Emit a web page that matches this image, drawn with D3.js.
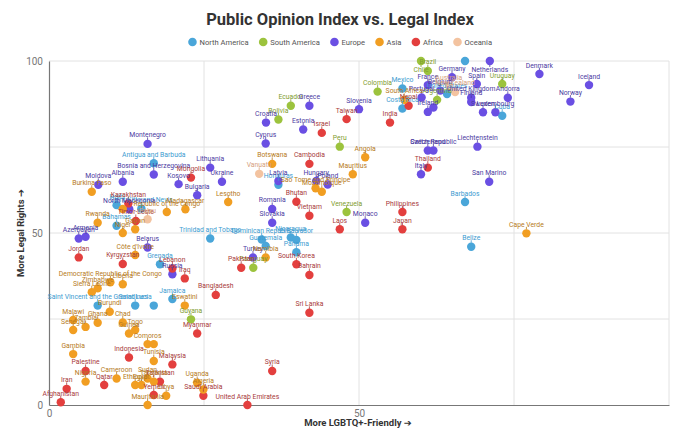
<!DOCTYPE html>
<html>
<head>
<meta charset="utf-8">
<script src="https://cdn.jsdelivr.net/npm/d3@7"></script>
<style>
  body { margin: 0; background: #fff; font-family: Roboto, "DejaVu Sans", sans-serif; }
</style>
</head>
<body>
<script>
// [name, public opinion index, legal index]
let northAmerica = [
  ["Mexico", 57.0, 92.0], ["Costa Rica", 57.0, 86.2], ["United States", 64.2, 90.4],
  ["Canada", 67.1, 100], ["Cuba", 73.1, 84.1], ["Barbados", 67.1, 59.0],
  ["Belize", 68.1, 46.0], ["Trinidad and Tobago", 26.0, 48.4], ["Antigua and Barbuda", 16.9, 70.3],
  ["Haiti", 10.9, 58.1], ["Saint Kitts and Nevis", 14.9, 57.1], ["Bahamas", 10.9, 52.1],
  ["Grenada", 17.9, 40.9], ["Jamaica", 19.9, 30.8], ["Saint Vincent and the Grenadines", 7.85, 28.9],
  ["Saint Lucia", 13.9, 28.9], ["Dominica", 16.9, 28.9], ["Honduras", 37.0, 64.0],
  ["Nicaragua", 39.0, 48.7], ["El Salvador", 39.9, 48.0], ["Dominican Republic", 34.3, 48.1],
  ["Guatemala", 34.95, 46.2], ["Panama", 39.9, 44.4]
];
let southAmerica = [
  ["Chile", 60.0, 100], ["Brazil", 61.1, 97.1], ["Argentina", 62.6, 88.7],
  ["Uruguay", 73.1, 93.3], ["Colombia", 53.0, 91.1], ["Ecuador", 39.0, 87.0],
  ["Bolivia", 37.0, 83.0], ["Peru", 46.9, 75.1], ["Venezuela", 48.0, 56.1],
  ["Paraguay", 32.95, 39.9], ["Guyana", 22.9, 24.9]
];
let europe = [
  ["Netherlands", 71.1, 100], ["Germany", 65.0, 95.3], ["France", 61.1, 93.0],
  ["Spain", 69.0, 93.3], ["Portugal", 60.1, 89.4], ["Belgium", 63.1, 91.4],
  ["United Kingdom", 68.1, 89.3], ["Finland", 68.1, 88.1], ["Andorra", 74.0, 89.3],
  ["Sweden", 70.0, 85.1], ["Luxembourg", 72.0, 85.1], ["Ireland", 61.1, 85.2],
  ["Malta", 62.0, 86.5], ["Denmark", 79.1, 96.2], ["Iceland", 87.1, 93.0],
  ["Norway", 84.1, 88.2], ["Slovenia", 50.0, 86.0], ["Greece", 42.0, 87.0],
  ["Croatia", 35.0, 82.1], ["Estonia", 41.0, 80.1], ["Cyprus", 34.95, 76.0],
  ["Switzerland", 61.1, 74.0], ["Czech Republic", 62.0, 74.0], ["Liechtenstein", 69.1, 75.1],
  ["Italy", 60.0, 67.1], ["San Marino", 71.0, 64.9], ["Latvia", 37.0, 65.1],
  ["Hungary", 43.1, 65.1], ["Poland", 44.95, 64.1], ["Romania", 36.0, 57.0],
  ["Slovakia", 36.0, 53.0], ["Monaco", 51.0, 53.0], ["Montenegro", 15.9, 75.9],
  ["Bosnia and Herzegovina", 16.9, 67.0], ["Albania", 11.9, 64.9], ["Moldova", 7.95, 64.0],
  ["Kosovo", 20.9, 64.2], ["Lithuania", 26.0, 69.0], ["Ukraine", 27.9, 64.9],
  ["Bulgaria", 23.9, 61.0], ["North Macedonia", 12.95, 56.9], ["Armenia", 5.9, 48.9],
  ["Azerbaijan", 4.8, 48.4], ["Belarus", 15.9, 45.8], ["Russia", 19.9, 38.0],
  ["Turkey", 32.9, 42.9]
];
let asia = [
  ["India", 55.0, 82.1], ["Nepal", 58.0, 87.0], ["Taiwan", 48.0, 83.1],
  ["Israel", 44.0, 79.1], ["Thailand", 61.1, 69.0], ["Cambodia", 42.0, 70.1],
  ["Bhutan", 39.9, 59.1], ["Vietnam", 42.0, 55.0], ["Laos", 46.9, 51.1],
  ["Philippines", 57.0, 56.1], ["Japan", 57.0, 51.1], ["South Korea", 39.9, 40.9],
  ["Bahrain", 42.0, 37.8], ["Sri Lanka", 42.0, 26.8], ["Pakistan", 31.0, 39.9],
  ["Mongolia", 22.9, 66.1], ["Kazakhstan", 12.8, 58.6], ["Timor-Leste", 14.0, 53.5],
  ["Jordan", 4.8, 42.9], ["Kyrgyzstan", 11.9, 41.0], ["Lebanon", 19.9, 39.7],
  ["Iraq", 21.9, 36.8], ["Bangladesh", 26.9, 32.0], ["Myanmar", 23.9, 20.8],
  ["Indonesia", 12.9, 13.8], ["Malaysia", 19.9, 11.8], ["Palestine", 5.9, 9.9],
  ["Qatar", 8.9, 5.8], ["Iran", 2.85, 4.7], ["Afghanistan", 1.9, 0.8],
  ["Tajikistan", 17.9, 6.8], ["Yemen", 16.9, 2.9], ["Saudi Arabia", 24.9, 2.7],
  ["United Arab Emirates", 32.0, 0], ["Syria", 36.0, 9.9]
];
let africa = [
  ["Cape Verde", 77.0, 49.9], ["South Africa", 57.3, 88.7], ["Angola", 51.0, 72.0],
  ["Mauritius", 49.0, 67.1], ["Botswana", 36.0, 70.1], ["Sao Tome and Principe", 43.0, 63.0],
  ["Mozambique", 44.0, 62.0], ["Namibia", 34.95, 42.9], ["Lesotho", 28.9, 59.0],
  ["Madagascar", 22.0, 56.9], ["Republic of the Congo", 19.0, 56.1], ["Burkina Faso", 6.9, 62.0],
  ["Rwanda", 7.85, 53.0], ["Gabon", 13.9, 51.1], ["Niger", 11.9, 50.0],
  ["Seychelles", 11.9, 57.0], ["Côte d'Ivoire", 13.9, 43.6], ["Democratic Republic of the Congo", 9.9, 35.7],
  ["Zimbabwe", 7.85, 33.9], ["Liberia", 11.9, 35.1], ["Sierra Leone", 6.9, 32.8],
  ["Eswatini", 21.9, 28.9], ["Burundi", 9.8, 27.1], ["Malawi", 3.9, 24.7],
  ["Ghana", 7.85, 23.9], ["Chad", 11.9, 24.0], ["Zambia", 5.9, 22.7],
  ["Togo", 13.9, 21.8], ["Guinea", 12.9, 20.8], ["Senegal", 3.9, 21.8],
  ["Comoros", 15.9, 17.7], ["Kenya", 16.9, 17.7], ["Gambia", 3.9, 14.8],
  ["Tunisia", 16.9, 12.8], ["Nigeria", 5.9, 6.8], ["Cameroon", 10.9, 7.7],
  ["Ethiopia", 13.9, 5.8], ["Egypt", 14.9, 5.8], ["Sudan", 15.9, 7.7],
  ["Tanzania", 16.9, 6.8], ["Libya", 18.9, 2.7], ["Mauritania", 15.9, 0],
  ["Uganda", 23.9, 6.4], ["Algeria", 24.9, 4.5]
];
let oceania = [
  ["Australia", 64.5, 92.7], ["New Zealand", 65.5, 91.0], ["Vanuatu", 33.9, 67.2], ["Palau", 15.9, 54.0]
];
let hiddenLabels = ["Canada", "Dominica", "Malta", "Seychelles", "Kenya"];

let legendNames = ["North America", "South America", "Europe", "Asia", "Africa", "Oceania"];
let legendColors = ["#4aa6d9", "#9cc33d", "#6a4fe3", "#f19e22", "#e33f3e", "#f3c3a0"];
let xTicks = [0, 50];
let yTicks = [0, 50, 100];
let gridTicks = [25, 50, 75, 100];

// colours as they appear on the dots (and darker versions for labels)
let groups = [
  {rows: northAmerica, dot: "#4aa6d9", text: "#3d9bd0"},
  {rows: southAmerica, dot: "#9cc33d", text: "#7f9d2f"},
  {rows: europe, dot: "#6a4fe3", text: "#4b3a9f"},
  {rows: asia, dot: "#e33f3e", text: "#a8393a"},
  {rows: africa, dot: "#f19e22", text: "#b67a22"},
  {rows: oceania, dot: "#f3c3a0", text: "#d5a07c"}
];

let points = [];
groups.forEach(g => g.rows.forEach(r => points.push({name: r[0], x: r[1], y: r[2], dot: g.dot, text: g.text})));

let w = 680, h = 444;
let svg = d3.select("body").append("svg").attr("width", w).attr("height", h);

let x = d3.scaleLinear().domain([0, 100]).range([49, 669]);
let y = d3.scaleLinear().domain([0, 100]).range([405, 61]);

// title
svg.append("text").attr("x", 340).attr("y", 25).attr("text-anchor", "middle")
  .attr("font-size", 16.5).attr("font-weight", "bold").attr("fill", "#333")
  .text("Public Opinion Index vs. Legal Index");

// legend, laid out from measured text widths, centred on the page
let leg = svg.append("g").attr("id", "legend");
let cursor = 0;
legendNames.forEach((n, i) => {
  let item = leg.append("g").attr("transform", `translate(${cursor},0)`);
  item.append("circle").attr("cx", 4.5).attr("cy", 42).attr("r", 4.3).attr("fill", legendColors[i]);
  let t = item.append("text").attr("x", 11.5).attr("y", 45).attr("font-size", 7.6).attr("fill", "#555").text(n);
  cursor += 11.5 + t.node().getComputedTextLength() + 10;
});
leg.attr("transform", `translate(${340 - (cursor - 10) / 2},0)`);

// grid
svg.append("g").selectAll("line").data(gridTicks).join("line")
  .attr("x1", d => x(d)).attr("x2", d => x(d)).attr("y1", y(0)).attr("y2", y(100))
  .attr("stroke", "#e2e2e2").attr("stroke-width", 1);
svg.append("g").selectAll("line").data(gridTicks).join("line")
  .attr("x1", x(0)).attr("x2", x(100)).attr("y1", d => y(d)).attr("y2", d => y(d))
  .attr("stroke", "#e2e2e2").attr("stroke-width", 1);

// axes
let yAxis = svg.append("g").attr("transform", `translate(${x(0)},0)`)
  .call(d3.axisLeft(y).tickValues(yTicks).tickSize(0).tickPadding(6));
let xAxis = svg.append("g").attr("transform", `translate(0,${y(0)})`)
  .call(d3.axisBottom(x).tickValues(xTicks).tickSize(0).tickPadding(5));
[yAxis, xAxis].forEach(a => {
  a.select(".domain").attr("stroke", "#777").attr("stroke-width", 1.2);
  a.selectAll("text").attr("fill", "#777").attr("font-size", 10).attr("font-family", "Roboto, sans-serif");
});

svg.append("text").attr("x", 358).attr("y", 426).attr("text-anchor", "middle")
  .attr("font-size", 9.5).attr("font-weight", "bold").attr("fill", "#333")
  .text("More LGBTQ+-Friendly ➔");
svg.append("text").attr("transform", "translate(24,233) rotate(-90)").attr("text-anchor", "middle")
  .attr("font-size", 9.5).attr("font-weight", "bold").attr("fill", "#333")
  .text("More Legal Rights ➔");

// dots
svg.append("g").selectAll("circle").data(points).join("circle")
  .attr("cx", d => x(d.x)).attr("cy", d => y(d.y)).attr("r", 4.2)
  .attr("fill", d => d.dot);

// labels with small leader ticks
let labelled = points.filter(d => !hiddenLabels.includes(d.name));
let lab = svg.append("g");
lab.selectAll("line").data(labelled).join("line")
  .attr("x1", d => x(d.x)).attr("x2", d => x(d.x))
  .attr("y1", d => d.y >= 99 ? y(d.y) + 4 : y(d.y) - 4)
  .attr("y2", d => d.y >= 99 ? y(d.y) + 6 : y(d.y) - 6.5)
  .attr("stroke", d => d.text).attr("stroke-width", 0.8);
lab.selectAll("text").data(labelled).join("text")
  .attr("x", d => x(d.x))
  .attr("y", d => d.y >= 99 ? y(d.y) + 11 : y(d.y) - 6.5)
  .attr("text-anchor", "middle").attr("font-size", 6.8)
  .attr("fill", d => d.text)
  .text(d => d.name);
</script>
</body>
</html>
